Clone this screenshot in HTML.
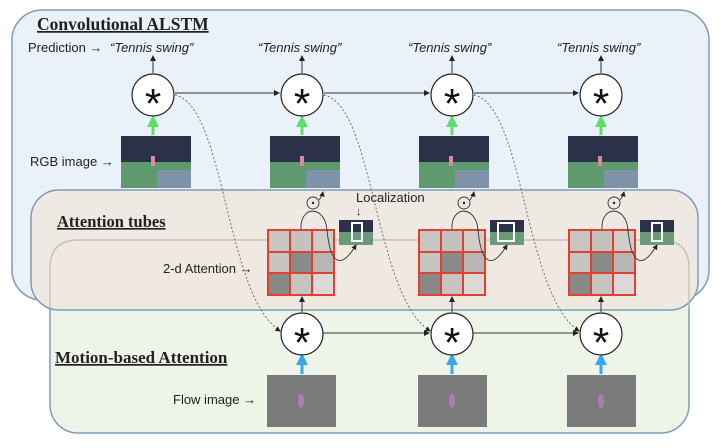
<!DOCTYPE html>
<html><head><meta charset="utf-8"><style>
html,body{margin:0;padding:0;background:#fff;}
svg{display:block;}
text{font-family:"Liberation Sans",sans-serif;}
.h{font-family:"Liberation Serif",serif;font-weight:bold;text-decoration:underline;fill:#222;}
</style></head><body>
<svg width="720" height="448" viewBox="0 0 720 448" xmlns="http://www.w3.org/2000/svg">
<defs>
<marker id="a" markerWidth="6" markerHeight="6" refX="5" refY="3" orient="auto"><path d="M0,0 L6,3 L0,6z" fill="#222"/></marker>
<marker id="g" markerWidth="4" markerHeight="4" refX="2" refY="2" orient="auto"><path d="M0,0 L4,2 L0,4z" fill="#5ee06a"/></marker>
<marker id="b" markerWidth="4" markerHeight="4" refX="2" refY="2" orient="auto"><path d="M0,0 L4,2 L0,4z" fill="#3aa8e8"/></marker>
<g id="rgb"><rect width="70" height="52" fill="#2c3048"/><rect y="26" width="70" height="26" fill="#5f9a6e"/><rect x="36" y="34" width="34" height="18" fill="#7e92a8"/><rect x="30" y="20" width="4" height="10" fill="#d98a9a"/></g>
<g id="flow"><rect width="69" height="52" fill="#7a7a7a"/><ellipse cx="34" cy="26" rx="3" ry="7" fill="#b07ab8"/></g>
<g id="sm"><rect width="34" height="25" fill="#2c3048"/><rect y="12" width="34" height="13" fill="#6a9a78"/></g>
<g id="grid">
<rect x="0" y="0" width="68" height="67" fill="#e04030"/>
<rect x="2" y="2" width="20" height="20" fill="#c8c6c2"/><rect x="24" y="2" width="20" height="20" fill="#c4c2be"/><rect x="46" y="2" width="20" height="20" fill="#cfcdc9"/>
<rect x="2" y="24" width="20" height="19" fill="#c6c4c0"/><rect x="24" y="24" width="20" height="19" fill="#8a8a88"/><rect x="46" y="24" width="20" height="19" fill="#b8b6b2"/>
<rect x="2" y="45" width="20" height="20" fill="#888886"/><rect x="24" y="45" width="20" height="20" fill="#c6c4c0"/><rect x="46" y="45" width="20" height="20" fill="#dcdad6"/>
</g>
</defs>
<rect x="12" y="10" width="697" height="290" rx="30" fill="#eaf1f9" stroke="#7f9bb8" stroke-width="1.5"/>
<rect x="50" y="240" width="639" height="193" rx="28" fill="#eef4e8" stroke="#7f9bb8" stroke-width="1.5"/>
<rect x="31" y="190" width="667" height="120" rx="28" fill="#efe8e1" fill-opacity="0.95" stroke="#7f9bb8" stroke-width="1.5"/>
<path d="M50,308 L50,268 Q50,240 78,240 L661,240 Q689,240 689,268 L689,308" fill="none" stroke="#c0bcb8" stroke-width="1.2"/>
<text x="37" y="30" class="h" font-size="17.5">Convolutional ALSTM</text>
<text x="57" y="227" class="h" font-size="16.5">Attention tubes</text>
<text x="55" y="363" class="h" font-size="17">Motion-based Attention</text>
<text x="28" y="52" font-size="13" fill="#222">Prediction →</text>
<g font-size="13" font-style="italic" fill="#222">
<text x="110" y="52">“Tennis swing”</text><text x="258" y="52">“Tennis swing”</text><text x="408" y="52">“Tennis swing”</text><text x="557" y="52">“Tennis swing”</text></g>
<text x="30" y="166" font-size="13" fill="#222">RGB image →</text>
<text x="163" y="273" font-size="13" fill="#222">2-d Attention →</text>
<text x="173" y="404" font-size="13" fill="#222">Flow image →</text>
<text x="356" y="202" font-size="13" fill="#222">Localization</text>
<text x="356" y="215" font-size="11" fill="#222">↓</text>
<g fill="none" stroke="#666" stroke-width="0.9" stroke-dasharray="2,2">
<path d="M175,95 C225,105 225,295 280,331" marker-end="url(#a)"/>
<path d="M324,95 C374,105 374,295 430,331" marker-end="url(#a)"/>
<path d="M474,95 C524,105 524,295 579,331" marker-end="url(#a)"/>
</g>
<g stroke="#333" stroke-width="1" fill="none">
<line x1="175" y1="93" x2="279" y2="93" marker-end="url(#a)"/>
<line x1="324" y1="93" x2="429" y2="93" marker-end="url(#a)"/>
<line x1="474" y1="93" x2="578" y2="93" marker-end="url(#a)"/>
<line x1="323" y1="333" x2="429" y2="333" marker-end="url(#a)"/>
<line x1="473" y1="333" x2="578" y2="333" marker-end="url(#a)"/>
<line x1="153" y1="73" x2="153" y2="56" marker-end="url(#a)"/>
<line x1="302" y1="73" x2="302" y2="56" marker-end="url(#a)"/>
<line x1="452" y1="73" x2="452" y2="56" marker-end="url(#a)"/>
<line x1="601" y1="73" x2="601" y2="56" marker-end="url(#a)"/>
<line x1="302" y1="312" x2="302" y2="297" marker-end="url(#a)"/>
<line x1="452" y1="312" x2="452" y2="297" marker-end="url(#a)"/>
<line x1="601" y1="312" x2="601" y2="297" marker-end="url(#a)"/>
</g>
<g stroke="#5ee06a" stroke-width="3" fill="none">
<line x1="153" y1="135" x2="153" y2="121" marker-end="url(#g)"/><line x1="302" y1="135" x2="302" y2="121" marker-end="url(#g)"/><line x1="452" y1="135" x2="452" y2="121" marker-end="url(#g)"/><line x1="601" y1="135" x2="601" y2="121" marker-end="url(#g)"/>
</g>
<g stroke="#3aa8e8" stroke-width="3" fill="none">
<line x1="302" y1="374" x2="302" y2="359" marker-end="url(#b)"/><line x1="452" y1="374" x2="452" y2="359" marker-end="url(#b)"/><line x1="601" y1="374" x2="601" y2="359" marker-end="url(#b)"/>
</g>
<g fill="#fff" stroke="#222" stroke-width="1.2">
<circle cx="153" cy="95" r="21"/><circle cx="302" cy="95" r="21"/><circle cx="452" cy="95" r="21"/><circle cx="601" cy="95" r="21"/>
<circle cx="302" cy="334" r="21"/><circle cx="452" cy="334" r="21"/><circle cx="601" cy="334" r="21"/>
</g>
<g font-size="42" fill="#111" text-anchor="middle" font-family="DejaVu Sans">
<text x="153" y="118">*</text><text x="302" y="118">*</text><text x="452" y="118">*</text><text x="601" y="118">*</text>
<text x="302" y="357">*</text><text x="452" y="357">*</text><text x="601" y="357">*</text>
</g>
<use href="#rgb" x="121" y="136"/><use href="#rgb" x="270" y="136"/><use href="#rgb" x="419" y="136"/><use href="#rgb" x="568" y="136"/>
<use href="#grid" x="267" y="229"/><use href="#grid" x="418" y="229"/><use href="#grid" x="568" y="229"/>
<use href="#sm" x="339" y="220"/><use href="#sm" x="490" y="220"/><use href="#sm" x="640" y="220"/>
<rect x="352" y="223" width="10" height="18" fill="none" stroke="#fff" stroke-width="2"/>
<rect x="498" y="223" width="16" height="18" fill="none" stroke="#fff" stroke-width="2"/>
<rect x="652" y="223" width="10" height="18" fill="none" stroke="#fff" stroke-width="2"/>
<use href="#flow" x="267" y="375"/><use href="#flow" x="418" y="375"/><use href="#flow" x="567" y="375"/>
<g fill="none" stroke="#333" stroke-width="0.9">
<path d="M301,229 C300,205 325,205 327,230 C330,262 340,272 356,245" marker-end="url(#a)"/>
<path d="M452,229 C451,205 476,205 478,230 C481,262 491,272 507,245" marker-end="url(#a)"/>
<path d="M602,229 C601,205 626,205 628,230 C631,262 641,272 657,245" marker-end="url(#a)"/>
<circle cx="313" cy="203" r="6"/><circle cx="464" cy="203" r="6"/><circle cx="614" cy="203" r="6"/>
<path d="M319,200 Q322,196 323,192" marker-end="url(#a)"/><path d="M470,200 Q473,196 474,192" marker-end="url(#a)"/><path d="M620,200 Q623,196 624,192" marker-end="url(#a)"/>
</g>
<g fill="#222"><circle cx="313" cy="203" r="1.2"/><circle cx="464" cy="203" r="1.2"/><circle cx="614" cy="203" r="1.2"/></g>
</svg>
</body></html>
